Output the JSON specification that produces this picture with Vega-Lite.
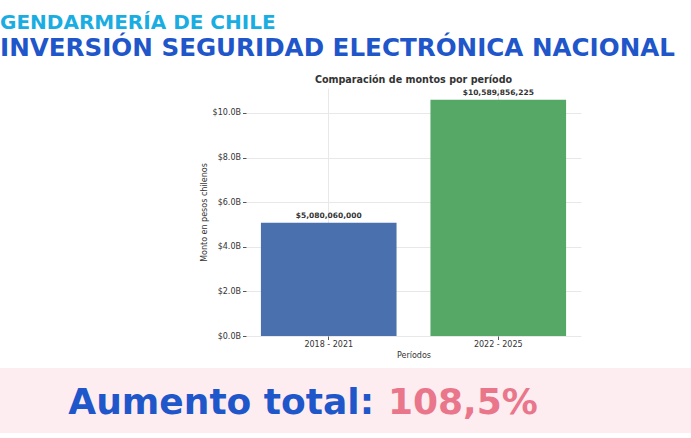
{
  "$schema": "https://vega.github.io/schema/vega-lite/v6.json",
  "background": "white",
  "padding": {"left": 0, "top": 12, "right": 0, "bottom": 0},
  "title": {
    "text": "GENDARMERÍA DE CHILE",
    "subtitle": "INVERSIÓN SEGURIDAD ELECTRÓNICA NACIONAL",
    "anchor": "start",
    "font": "DejaVu Sans",
    "fontSize": 20,
    "fontWeight": "bold",
    "color": "#1aade2",
    "subtitleFont": "DejaVu Sans",
    "subtitleFontSize": 24.6,
    "subtitleFontWeight": "bold",
    "subtitleColor": "#1f56c9",
    "subtitlePadding": 4,
    "offset": 15
  },
  "config": {
    "font": "DejaVu Sans",
    "view": {"stroke": null}
  },
  "resolve": {"scale": {"color": "independent"}},
  "datasets": {
    "barras": [
      {"periodo": "2018 - 2021", "monto": 5080060000},
      {"periodo": "2022 - 2025", "monto": 10589856225}
    ],
    "pie": [
      {"parte": "Aumento total:"},
      {"parte": "108,5%"}
    ]
  },
  "spacing": 8,
  "vconcat": [
    {
      "spacing": 0,
      "hconcat": [
        {
          "width": 200,
          "height": 10,
          "data": {"values": []},
          "mark": "point"
        },
        {
          "width": 335,
          "height": 248,
          "title": {
            "text": "Comparación de montos por período",
            "fontSize": 9.6,
            "fontWeight": "bold",
            "color": "#333333",
            "frame": "group",
            "anchor": "middle",
            "offset": 3
          },
          "data": {"name": "barras"},
          "encoding": {
            "x": {
              "field": "periodo",
              "type": "nominal",
              "sort": null,
              "scale": {"paddingInner": 0.2, "paddingOuter": 0.088},
              "axis": {
                "title": "Períodos",
                "labelAngle": 0,
                "grid": true,
                "gridColor": "#e8e8e8",
                "domain": false,
                "tickSize": 3.5,
                "tickColor": "#555555",
                "labelFontSize": 8,
                "labelColor": "#333333",
                "labelPadding": 1,
                "titleFontSize": 8,
                "titleFontWeight": "normal",
                "titleColor": "#333333",
                "titlePadding": 3
              }
            },
            "y": {
              "field": "monto",
              "type": "quantitative",
              "scale": {"domain": [0, 11120000000], "nice": false},
              "axis": {
                "title": "Monto en pesos chilenos",
                "values": [0, 2000000000, 4000000000, 6000000000, 8000000000, 10000000000],
                "labelExpr": "'$' + format(datum.value / 1e9, '.1f') + 'B'",
                "grid": true,
                "gridColor": "#e8e8e8",
                "domain": false,
                "tickSize": 3.5,
                "tickColor": "#555555",
                "labelFontSize": 8,
                "labelColor": "#333333",
                "labelPadding": 2,
                "titleFontSize": 8,
                "titleFontWeight": "normal",
                "titleColor": "#333333",
                "titlePadding": 4
              }
            }
          },
          "layer": [
            {
              "mark": {"type": "bar"},
              "encoding": {
                "color": {
                  "field": "periodo",
                  "type": "nominal",
                  "sort": null,
                  "scale": {"range": ["#4a70ae", "#55a866"]},
                  "legend": null
                }
              }
            },
            {
              "mark": {
                "type": "text",
                "baseline": "bottom",
                "dy": -3,
                "fontSize": 7.5,
                "fontWeight": "bold",
                "color": "#333333"
              },
              "encoding": {
                "text": {"field": "monto", "type": "quantitative", "format": "$,.0f"}
              }
            }
          ]
        }
      ]
    },
    {
      "width": 691,
      "height": 65,
      "view": {"fill": "#fdedf0", "stroke": null},
      "data": {"name": "pie"},
      "mark": {
        "type": "text",
        "align": "left",
        "font": "DejaVu Sans",
        "fontSize": 36,
        "fontWeight": "bold",
        "dy": 2
      },
      "encoding": {
        "x": {
          "field": "parte",
          "type": "nominal",
          "sort": null,
          "scale": {"type": "point", "padding": 0.581, "align": 0.184},
          "axis": null
        },
        "text": {"field": "parte", "type": "nominal"},
        "color": {
          "field": "parte",
          "type": "nominal",
          "sort": null,
          "scale": {"domain": ["Aumento total:", "108,5%"], "range": ["#1f56c9", "#e9768a"]},
          "legend": null
        }
      }
    }
  ]
}
